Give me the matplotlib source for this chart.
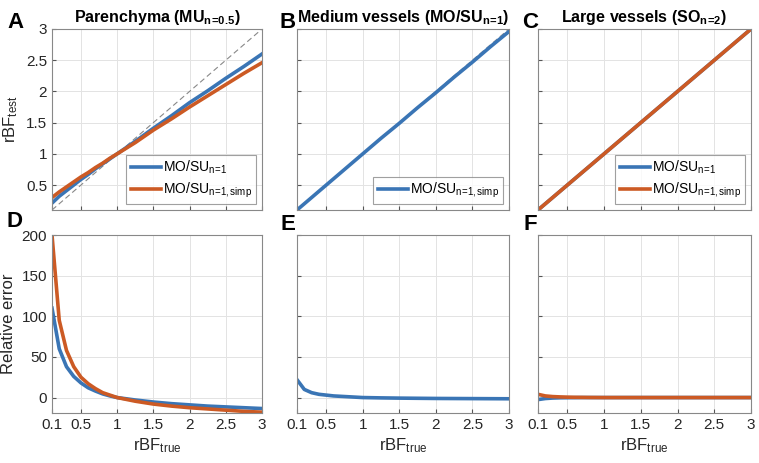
import numpy as np
import matplotlib
matplotlib.use('Agg')
import matplotlib.pyplot as plt

# rBF_true grid
rbf_true = [0.1, 0.2, 0.3, 0.4, 0.5, 0.6, 0.7, 0.8, 0.9, 1.0, 1.25, 1.5, 1.75, 2.0, 2.25, 2.5, 2.75, 3.0]

# panel A: parenchyma, rBF_test
par_mosu = [0.21, 0.32, 0.41, 0.50, 0.59, 0.67, 0.76, 0.84, 0.92, 1.0, 1.20, 1.41, 1.61, 1.82, 2.01, 2.21, 2.40, 2.60]
par_simp = [0.30, 0.39, 0.47, 0.55, 0.63, 0.70, 0.78, 0.85, 0.93, 1.0, 1.18, 1.38, 1.56, 1.75, 1.93, 2.11, 2.29, 2.46]
# panel B: medium vessels
med_simp = [0.10, 0.20, 0.30, 0.40, 0.50, 0.60, 0.70, 0.80, 0.90, 1.0, 1.25, 1.49, 1.74, 1.98, 2.23, 2.47, 2.72, 2.96]
# panel C: large vessels
lrg_mosu = [0.10, 0.20, 0.30, 0.40, 0.50, 0.60, 0.70, 0.80, 0.90, 1.0, 1.25, 1.50, 1.75, 2.00, 2.25, 2.50, 2.75, 3.00]
lrg_simp = [0.10, 0.20, 0.30, 0.40, 0.50, 0.60, 0.70, 0.80, 0.90, 1.0, 1.25, 1.50, 1.75, 2.00, 2.25, 2.50, 2.75, 3.00]

# relative errors (%)
err_par_mosu = [110, 60, 38, 26, 18, 12, 8, 4.5, 2, 0, -3, -5.5, -7.5, -9, -10.5, -11.5, -12.5, -13.5]
err_par_simp = [200, 95, 58, 38, 25, 17, 11, 6, 3, 0, -4.5, -8, -10.5, -12.5, -14, -15.5, -17, -18]
err_med_simp = [22, 10, 6, 4, 3, 2, 1.5, 1, 0.5, 0, -0.4, -0.7, -0.9, -1.1, -1.2, -1.3, -1.4, -1.5]
err_lrg_mosu = [-2.5, -1.2, -0.6, -0.3, -0.2, -0.1, 0, 0, 0, 0, 0, 0, 0, 0, 0, 0, 0, 0]
err_lrg_simp = [4, 2, 1.2, 0.8, 0.5, 0.3, 0.2, 0.1, 0.05, 0, 0, 0, 0, 0, 0, 0, 0, 0]

titles = [r'Parenchyma (MU$_{\mathbf{n\!=\!0.5}}$)',
          r'Medium vessels (MO/SU$_{\mathbf{n\!=\!1}}$)',
          r'Large vessels (SO$_{\mathbf{n\!=\!2}}$)']
xticks = [0.1, 0.5, 1, 1.5, 2, 2.5, 3]
xticklabels = ['0.1', '0.5', '1', '1.5', '2', '2.5', '3']

blue = '#3A75B5'
orange = '#CC5A24'
lab1 = r'MO/SU$_{\mathrm{n\!=\!1}}$'
lab2 = r'MO/SU$_{\mathrm{n\!=\!1,simp}}$'

plt.rcParams['font.family'] = ['Liberation Sans', 'DejaVu Sans']
plt.rcParams['font.size'] = 10
plt.rcParams['mathtext.fontset'] = 'custom'
plt.rcParams['mathtext.rm'] = 'Liberation Sans'
plt.rcParams['mathtext.bf'] = 'Liberation Sans:bold'
plt.rcParams['mathtext.it'] = 'Liberation Sans'

W, H = 759, 463
fig = plt.figure(figsize=(W / 100, H / 100), dpi=100)

lefts = [52, 297, 538]
widths = [210, 212, 213]

def mkax(i, top, bot):
    return fig.add_axes([lefts[i] / W, 1 - bot / H, widths[i] / W, (bot - top) / H])

def style(ax):
    for s in ax.spines.values():
        s.set_color('#888888')
        s.set_linewidth(0.8)
    ax.tick_params(direction='in', length=3, color='#555555', labelcolor='#262626', labelsize=11)
    ax.grid(True, color='#e3e3e3', linewidth=0.7)
    ax.set_axisbelow(True)
    ax.set_xlim(0.1, 3)
    ax.set_xticks(xticks)

top_axes = [mkax(i, 29, 210) for i in range(3)]
bot_axes = [mkax(i, 235, 413) for i in range(3)]

lw = 2.6
for i, ax in enumerate(top_axes):
    style(ax)
    ax.plot([0.1, 3], [0.1, 3], '--', color='#888888', lw=0.8, dashes=(5, 3))
    ax.set_ylim(0.1, 3)
    ax.set_yticks([0.5, 1, 1.5, 2, 2.5, 3])
    ax.set_xticklabels([])
    ax.set_title(titles[i], fontsize=11.5, fontweight='bold', pad=5)
    if i > 0:
        ax.set_yticklabels([])
    else:
        ax.set_yticklabels(['0.5', '1', '1.5', '2', '2.5', '3'])

ax = top_axes[0]
ax.plot(rbf_true, par_mosu, color=blue, lw=lw, label=lab1)
ax.plot(rbf_true, par_simp, color=orange, lw=lw, label=lab2)
ax.set_ylabel(r'rBF$_{\mathrm{test}}$', fontsize=12, color='#262626')

ax = top_axes[1]
ax.plot(rbf_true, med_simp, color=blue, lw=lw, label=lab2)

ax = top_axes[2]
ax.plot(rbf_true, lrg_mosu, color=blue, lw=lw, label=lab1)
ax.plot(rbf_true, lrg_simp, color=orange, lw=lw, label=lab2)

for ax in top_axes:
    leg = ax.legend(loc='lower right', fontsize=10, frameon=True, fancybox=False,
                    handlelength=2.2, handletextpad=0.15, borderaxespad=0.4,
                    labelspacing=0.35, borderpad=0.3)
    leg.get_frame().set_edgecolor('#888888')
    leg.get_frame().set_linewidth(0.8)

bot_series = [[(err_par_mosu, blue), (err_par_simp, orange)],
              [(err_med_simp, blue)],
              [(err_lrg_mosu, blue), (err_lrg_simp, orange)]]
for i, ax in enumerate(bot_axes):
    style(ax)
    for ys, c in bot_series[i]:
        ax.plot(rbf_true, ys, color=c, lw=lw)
    ax.set_ylim(-19, 200)
    ax.set_yticks([0, 50, 100, 150, 200])
    ax.set_xticklabels(xticklabels)
    ax.set_xlabel(r'rBF$_{\mathrm{true}}$', fontsize=12, color='#262626', labelpad=3)
    if i > 0:
        ax.set_yticklabels([])
bot_axes[0].set_ylabel('Relative error', fontsize=12, color='#262626')

letters = [('A', 16, 22), ('B', 288, 22), ('C', 530, 22),
           ('D', 15, 222), ('E', 288, 225), ('F', 530, 225)]
for t, x, y in letters:
    fig.text(x / W, 1 - y / H, t, fontsize=16, fontweight='bold', ha='center', va='center')

fig.savefig('out.png', dpi=100)
